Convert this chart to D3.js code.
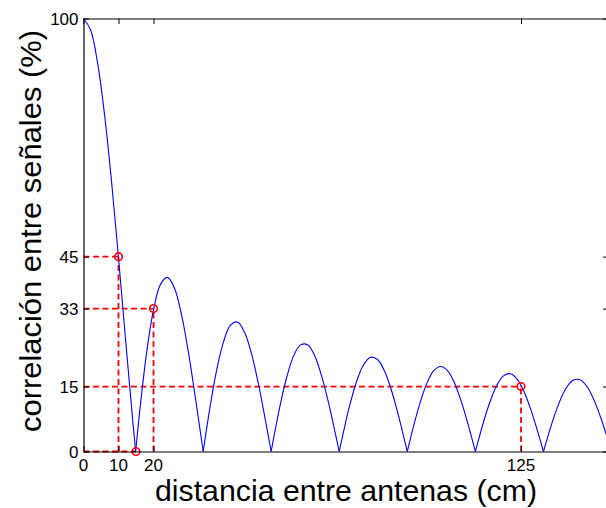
<!DOCTYPE html>
<html>
<head>
<meta charset="utf-8">
<script src="https://cdn.jsdelivr.net/npm/d3@7/dist/d3.min.js"></script>
<style>
  html, body { margin: 0; padding: 0; background: #fff; }
  svg { display: block; }
  text { font-family: "Liberation Sans", Arial, Helvetica, sans-serif; fill: #000; }
</style>
</head>
<body>
<svg id="chart" width="606" height="508"></svg>
<script>
// Spatial correlation between the signals of two antennas vs. their separation
const distanceCm = [
  0, 2, 4, 6, 8, 10, 12, 14, 14.9,
  16, 18, 20, 22, 24, 26, 28, 30, 32, 34, 34.2,
  36, 38, 40, 42, 44, 46, 48, 50, 52, 53.62,
  54, 56, 58, 60, 62, 64, 66, 68, 70, 72, 73.06,
  74, 76, 78, 80, 82, 84, 86, 88, 90, 92, 92.51,
  94, 96, 98, 100, 102, 104, 106, 108, 110, 111.96,
  112, 114, 116, 118, 120, 122, 124, 126, 128, 130, 131.42,
  132, 134, 136, 138, 140, 142, 144, 146, 148, 150
];
const correlationPct = [
  100, 97.41, 89.85, 77.86, 62.46, 44.74, 26.05, 7.77, 0,
  8.83, 22.62, 32.69, 38.60, 40.22, 37.70, 31.61, 22.79, 12.24, 1.10, 0,
  9.50, 18.63, 25.30, 29.17, 29.89, 27.53, 22.60, 15.53, 7.10, 0,
  1.68, 9.97, 16.97, 22.03, 24.62, 24.67, 22.22, 17.52, 11.27, 3.99, 0,
  3.50, 10.46, 16.12, 19.99, 21.76, 21.25, 18.59, 14.09, 8.26, 1.70, 0,
  4.89, 10.81, 15.55, 18.60, 19.64, 18.68, 15.84, 11.40, 5.92, 0,
  0.11, 6.01, 11.13, 15.12, 17.46, 17.96, 16.62, 13.58, 9.21, 3.97, 0,
  1.61, 6.94, 11.46, 14.78, 16.49, 16.53, 14.83, 11.63, 7.33, 2.31
];

// Highlighted operating points
const markDistance = [10, 20, 15, 125];
const markCorrelation = [45, 33, 0, 15];

const xTicks = [0, 10, 20, 125];
const yTicks = [0, 15, 33, 45, 100];

const xTitle = "distancia entre antenas (cm)";
const yTitle = "correlación entre señales (%)";

const svg = d3.select("#chart");
const plotLeft = 83.5, plotRight = 608.5, plotTop = 18.5, plotBottom = 451.5;

const x = d3.scaleLinear().domain([0, 150]).range([plotLeft, plotRight]);
const y = d3.scaleLinear().domain([0, 100]).range([plotBottom, plotTop]);

// Guide lines from each marked point to the axes
const guides = svg.append("g")
  .attr("fill", "none")
  .attr("stroke", "#ff0000")
  .attr("stroke-width", 1.8)
  .attr("stroke-dasharray", "6,3.5");

markDistance.forEach((d, i) => {
  const c = markCorrelation[i];
  guides.append("line")
    .attr("x1", x(0)).attr("x2", x(d))
    .attr("y1", y(c)).attr("y2", y(c));
  if (c > 0) {
    guides.append("line")
      .attr("x1", x(d)).attr("x2", x(d))
      .attr("y1", y(0)).attr("y2", y(c));
  }
});

// Curve, drawn lobe by lobe so the nulls keep their sharp V shape
const pts = distanceCm.map((d, i) => [d, correlationPct[i]]);
const lobes = [];
let current = [];
pts.forEach((p, i) => {
  current.push(p);
  if (p[1] === 0 && i > 0) {
    lobes.push(current);
    current = [p];
  }
});
if (current.length > 1) lobes.push(current);

const line = d3.line()
  .x(p => x(p[0]))
  .y(p => y(p[1]))
  .curve(d3.curveCatmullRom.alpha(0.5));

svg.append("g")
  .selectAll("path")
  .data(lobes)
  .join("path")
  .attr("d", line)
  .attr("fill", "none")
  .attr("stroke", "#0000ff")
  .attr("stroke-width", 1.1);

// Markers
svg.append("g")
  .selectAll("circle")
  .data(markDistance)
  .join("circle")
  .attr("cx", d => x(d))
  .attr("cy", (d, i) => y(markCorrelation[i]))
  .attr("r", 3.8)
  .attr("fill", "none")
  .attr("stroke", "#ff0000")
  .attr("stroke-width", 1.6);

// Box with inward ticks on all four sides
const tickLen = 5.5;
const axisG = svg.append("g").attr("stroke", "#000").attr("stroke-width", 1).attr("fill", "none");

axisG.append("g").attr("transform", `translate(0,${plotBottom})`)
  .call(d3.axisBottom(x).tickValues(xTicks).tickSizeInner(-tickLen).tickSizeOuter(0).tickFormat(""));
axisG.append("g").attr("transform", `translate(0,${plotTop})`)
  .call(d3.axisTop(x).tickValues(xTicks).tickSizeInner(-tickLen).tickSizeOuter(0).tickFormat(""));
axisG.append("g").attr("transform", `translate(${plotLeft},0)`)
  .call(d3.axisLeft(y).tickValues(yTicks).tickSizeInner(-tickLen).tickSizeOuter(0).tickFormat(""));
axisG.append("g").attr("transform", `translate(${plotRight},0)`)
  .call(d3.axisRight(y).tickValues(yTicks).tickSizeInner(-tickLen).tickSizeOuter(0).tickFormat(""));

svg.selectAll(".domain").attr("stroke", "#000").attr("stroke-width", 1.2);
svg.selectAll(".tick line").attr("stroke", "#000");

// Tick labels
svg.append("g")
  .selectAll("text")
  .data(xTicks)
  .join("text")
  .attr("x", d => x(d))
  .attr("y", 471)
  .attr("text-anchor", "middle")
  .attr("font-size", 17)
  .text(d => d);

svg.append("g")
  .selectAll("text")
  .data(yTicks)
  .join("text")
  .attr("x", 78.5)
  .attr("y", d => y(d) + 6)
  .attr("text-anchor", "end")
  .attr("font-size", 17)
  .text(d => d);

// Axis titles
svg.append("text")
  .attr("x", 346)
  .attr("y", 501)
  .attr("text-anchor", "middle")
  .attr("font-size", 29)
  .attr("textLength", 382)
  .attr("lengthAdjust", "spacingAndGlyphs")
  .text(xTitle);

svg.append("text")
  .attr("transform", "translate(41,231) rotate(-90)")
  .attr("text-anchor", "middle")
  .attr("font-size", 29)
  .attr("textLength", 402)
  .attr("lengthAdjust", "spacingAndGlyphs")
  .text(yTitle);
</script>
</body>
</html>
